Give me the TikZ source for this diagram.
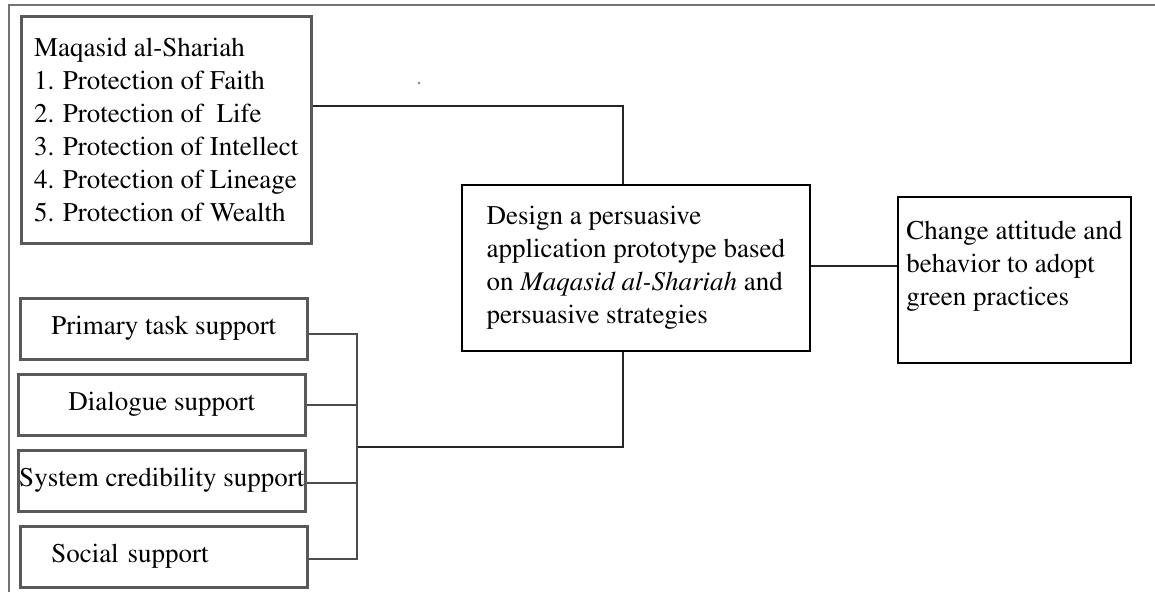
\documentclass[tikz,border=0pt]{standalone}
\usepackage[T1]{fontenc}
\usepackage{mathptmx}
\usetikzlibrary{positioning,calc}

\begin{document}
\begin{tikzpicture}[x=1pt,y=-1pt,
    every node/.style={font=\fontsize{27}{33}\selectfont},
    strat/.style={draw=black!65, line width=2.5pt, minimum width=287pt,
                  minimum height=61pt, inner xsep=0pt, anchor=north west},
    mainbox/.style={draw, line width=1.6pt, align=left, anchor=north west},
    link/.style={line width=1.6pt, black!85}]

     \useasboundingbox (0,0) rectangle (1155,592);
     % the frame round the figure
     \draw[black!55, line width=1.5pt] (9,592) -- (9,5) -- (1155,5);
     \fill[black!50] (419,83) circle (1.3);

     % the five objectives
     \node[mainbox, draw=black!65, line width=2.5pt, minimum width=290pt,
           minimum height=227pt] (maqasid) at (20,15)
          {Maqasid al-Shariah\\
           1. Protection of Faith\\
           2. Protection of\ \ Life\\
           3. Protection of Intellect\\
           4. Protection of Lineage\\
           5. Protection of Wealth};

     % persuasive strategies
     \node[strat] (primary)  at (19,297) {Primary task support};
     \node[strat] (dialogue) at (17,373) {Dialogue support};
     \node[strat] (system)   at (17,449) {System credibility support};
     \node[strat, text width=225pt, align=left] (social) at (19,525)
          {Social support};

     % prototype and outcome
     \node[mainbox, minimum width=348pt, minimum height=166pt] (design) at (461,184)
          {Design a persuasive\\
           application prototype based\\
           on \textit{Maqasid al-Shariah} and\\
           persuasive strategies};
     \node[mainbox, minimum width=233pt, minimum height=166pt] (change) at (897,196)
          {Change attitude and\\
           behavior to adopt\\
           green practices\\
           \mbox{}};

     % connectors
     \coordinate (busmid) at (357,447);
     \draw[link] ([yshift=24pt]maqasid.east) -| ([xshift=-13pt]design.north);
     \draw[link] ([xshift=-13pt]design.south) |- (busmid);
     \draw[link] ([yshift=2pt]design.east) -- ([yshift=2pt]design.east -| change.west);
     \draw[link, black!70, line width=2.2pt]
          ([yshift=-5pt]primary.east) -| ([yshift=-2pt]social.east -| busmid)
          -- ([yshift=-2pt]social.east);
     \draw[link, black!70, line width=2.2pt] (dialogue.east) -- (dialogue.east -| busmid);
     \draw[link, black!70, line width=2.2pt] ([yshift=-2pt]system.east) -- ([yshift=-2pt]system.east -| busmid);
  \end{tikzpicture}
\end{document}
